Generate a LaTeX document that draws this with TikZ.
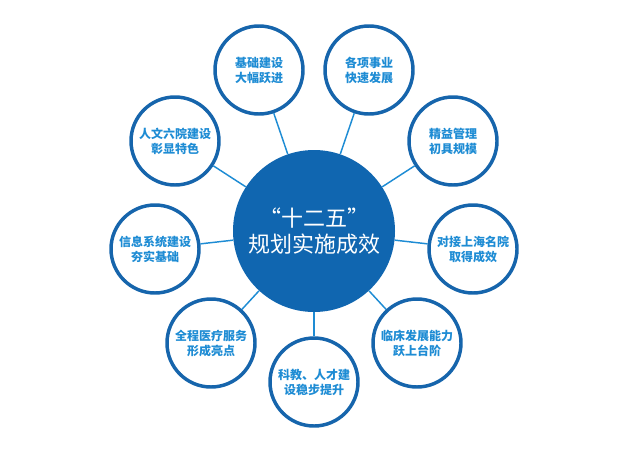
\documentclass[tikz,border=0pt]{standalone}
\usepackage{fontspec}
\usepackage{tikz}
\newfontfamily\cjk{Noto Sans CJK SC}
\definecolor{dblue}{RGB}{16,102,176}
\definecolor{mblue}{RGB}{22,101,172}
\definecolor{lblue}{RGB}{30,140,212}
\tikzset{
    goal/.style={circle, draw=mblue, line width=2.6pt, fill=white,
        minimum size=66pt, inner sep=0pt, align=center, text=lblue,
        font=\cjk\bfseries\fontsize{9}{11.25}\selectfont},
    hub/.style={circle, fill=dblue, minimum size=121.5pt, inner sep=0pt,
        align=center, text=white, font=\cjk\fontsize{16.5}{19.5}\selectfont}
}
\newcommand{\drawlink}{\draw[lblue, line width=1.1pt]}

\begin{document}
\begin{tikzpicture}[x=0.75pt, y=-0.75pt]
    \useasboundingbox (0,0) rectangle (630,450);

    % Draw hub
    \node[hub] (hub) at (314, 231) {“十二五”\\规划实施成效};

    % Draw goals
    \node[goal] (jichu) at (259, 70) {基础建设\\大幅跃进};
    \node[goal] (shiye) at (369, 70) {各项事业\\快速发展};
    \node[goal] (renwen) at (175, 141) {人文六院建设\\彰显特色};
    \node[goal] (jingyi) at (453, 141) {精益管理\\初具规模};
    \node[goal] (xinxi) at (155, 249) {信息系统建设\\夯实基础};
    \node[goal] (duijie) at (473, 249) {对接上海名院\\取得成效};
    \node[goal] (yiliao) at (211, 343) {全程医疗服务\\形成亮点};
    \node[goal] (linchuang) at (417, 343) {临床发展能力\\跃上台阶};
    \node[goal] (kejiao) at (314, 382) {科教、人才建\\设稳步提升};

    % Draw links
    \foreach \g in {jichu, shiye, renwen, jingyi, xinxi, duijie, yiliao, linchuang, kejiao} {
        \drawlink (hub) -- (\g);
    }
\end{tikzpicture}
\end{document}
